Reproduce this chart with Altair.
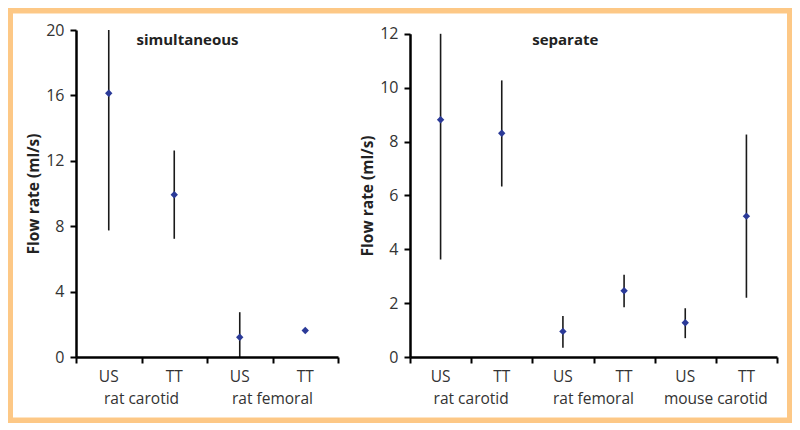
import altair as alt
import pandas as pd

# ---- data ----
left_cats = ["US", "TT", "US", "TT"]
left_groups = ["rat carotid", "rat femoral"]
left_mean = [16.13, 9.92, 1.21, 1.62]
left_lo = [7.74, 7.23, 0.0, None]
left_hi = [20.0, 12.63, 2.74, None]

right_cats = ["US", "TT", "US", "TT", "US", "TT"]
right_groups = ["rat carotid", "rat femoral", "mouse carotid"]
right_mean = [8.81, 8.31, 0.95, 2.46, 1.27, 5.23]
right_lo = [3.62, 6.33, 0.34, 1.85, 0.70, 2.20]
right_hi = [12.0, 10.27, 1.52, 3.05, 1.81, 8.26]

left_ticks = [0, 4, 8, 12, 16, 20]
right_ticks = [0, 2, 4, 6, 8, 10, 12]

FONT = "Open Sans"
PT_COLOR = "#2B3A98"
LINE_COLOR = "#1a1a1a"
ORANGE = "#FDC886"


def panel(cats, groups, mean, lo, hi, yticks, ymax, title, title_x, width, height, yrange, background=False):
    n = len(cats)
    pts = pd.DataFrame({"pos": [i + 0.5 for i in range(n)], "cat": cats, "mean": mean})
    err = pd.DataFrame({"pos": [i + 0.5 for i in range(n)], "lo": lo, "hi": hi}).dropna()
    grp = pd.DataFrame({"pos": [2 * i + 1 for i in range(len(groups))], "grp": groups})

    xscale = alt.Scale(domain=[0, n], nice=False)
    yscale = alt.Scale(domain=[0, ymax], nice=False, range=yrange)

    xaxis = alt.Axis(values=list(range(n + 1)), labels=False, title=None, grid=False, zindex=1,
                     tickSize=6, tickWidth=2, tickColor="black", domainWidth=2.5, domainColor="black")
    yaxis = alt.Axis(values=yticks, title="Flow rate (ml/s)", grid=False, zindex=1,
                     tickSize=6, tickWidth=2, tickColor="black", domainWidth=2.5, domainColor="black",
                     labelFont=FONT, labelFontSize=16, labelColor="#333333", labelPadding=6,
                     titleFont=FONT, titleFontSize=15.5, titleFontWeight="bold", titleColor="#222222",
                     titlePadding=4)

    base_x = alt.X("pos:Q", scale=xscale, axis=xaxis)

    rules = alt.Chart(err).mark_rule(color=LINE_COLOR, strokeWidth=1.6).encode(
        x=base_x,
        y=alt.Y("lo:Q", scale=yscale, axis=yaxis),
        y2="hi:Q",
    )
    points = alt.Chart(pts).mark_point(shape="diamond", filled=True, size=55, color=PT_COLOR, opacity=1).encode(
        x=alt.X("pos:Q", scale=xscale),
        y=alt.Y("mean:Q", scale=yscale),
    )
    cat_text = alt.Chart(pts).mark_text(font=FONT, fontSize=15.5, color="#333333", baseline="middle").encode(
        x=alt.X("pos:Q", scale=xscale),
        y=alt.value(347.2),
        text="cat:N",
    )
    grp_text = alt.Chart(grp).mark_text(font=FONT, fontSize=15.5, color="#333333", baseline="middle").encode(
        x=alt.X("pos:Q", scale=xscale),
        y=alt.value(368.8),
        text="grp:N",
    )
    ttl = alt.Chart(pd.DataFrame({"t": [title]})).mark_text(
        font=FONT, fontSize=15, fontWeight="bold", color="#222222", baseline="middle"
    ).encode(x=alt.value(title_x), y=alt.value(9.8), text="t:N")

    layers = [rules, points, cat_text, grp_text, ttl]
    if background:
        bg = alt.Chart(pd.DataFrame({"a": [0]})).mark_rect(color="white").encode(
            x=alt.value(-63), x2=alt.value(711), y=alt.value(-16.5), y2=alt.value(387.5)
        )
        layers = [bg] + layers
    return alt.layer(*layers).properties(width=width, height=height)


left = panel(left_cats, left_groups, left_mean, left_lo, left_hi, left_ticks, 20,
             "simultaneous", 111.5, 262, 327, [327, 0], background=True)
right = panel(right_cats, right_groups, right_mean, right_lo, right_hi, right_ticks, 12,
              "separate", 155.3, 367, 327, [327, 3.8])

chart = alt.hconcat(left, right, spacing=72, bounds="flush").properties(
    background=ORANGE, padding=5
).configure_view(stroke=None)

chart.save("out.html", embed_options={"renderer": "svg", "actions": False})
